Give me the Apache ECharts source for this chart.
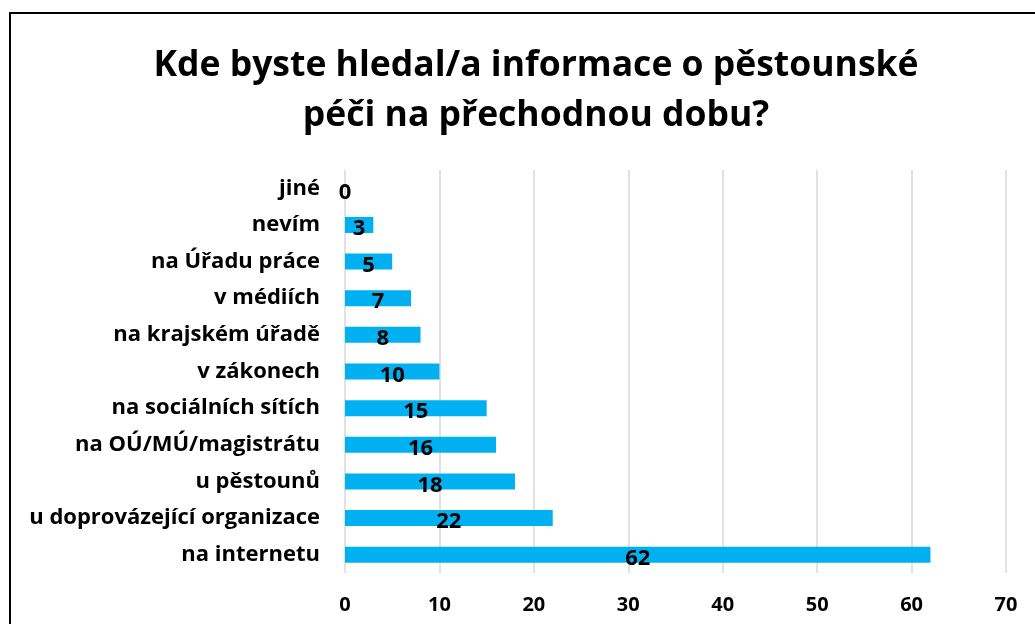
<!DOCTYPE html>
<html>
<head>
<meta charset="utf-8">
<script src="https://cdn.jsdelivr.net/npm/echarts@6/dist/echarts.min.js"></script>
<style>
html,body{margin:0;padding:0;background:#fff;}
#chart{width:1035px;height:624px;}
</style>
</head>
<body>
<div id="chart"></div>
<script>
const titleText = 'Kde byste hledal/a informace o pěstounské\npéči na přechodnou dobu?';
const categories = ['na internetu','u doprovázející organizace','u pěstounů','na OÚ/MÚ/magistrátu','na sociálních sítích','v zákonech','na krajském úřadě','v médiích','na Úřadu práce','nevím','jiné'];
const values = [62,22,18,16,15,10,8,7,5,3,0];
const xTicks = [0,10,20,30,40,50,60,70];

const FONT = 'Open Sans';
const chart = echarts.init(document.getElementById('chart'), null, {renderer:'canvas'});
chart.setOption({
  animation:false,
  backgroundColor:'#ffffff',
  graphic:[{
    type:'rect', shape:{x:10,y:13,width:1030,height:700},
    style:{fill:'none',stroke:'#000',lineWidth:2}, silent:true, z:-1
  }],
  title:{
    text:titleText, left:531, top:36, textAlign:'center',
    textStyle:{fontFamily:FONT,fontWeight:'bold',fontSize:35.5,color:'#000',lineHeight:50}
  },
  grid:{left:345,right:29,top:170,bottom:51,containLabel:false},
  xAxis:{
    type:'value', min:xTicks[0], max:xTicks[xTicks.length-1], interval:10,
    axisLine:{show:false}, axisTick:{show:false},
    splitLine:{show:true,lineStyle:{color:'#d9d9d9',width:1.5}},
    axisLabel:{fontFamily:FONT,fontWeight:'bold',fontSize:20,color:'#000',margin:22}
  },
  yAxis:{
    type:'category', data:categories,
    axisLine:{show:false}, axisTick:{show:false},
    axisLabel:{fontFamily:FONT,fontWeight:'bold',fontSize:22,color:'#000',margin:25}
  },
  series:[{
    type:'bar', data:values, barWidth:16,
    itemStyle:{color:'#00B0F0'},
    label:{show:true,position:'inside',offset:[0,4],fontFamily:FONT,fontWeight:'bold',fontSize:22,color:'#000'}
  }]
});
</script>
</body>
</html>
